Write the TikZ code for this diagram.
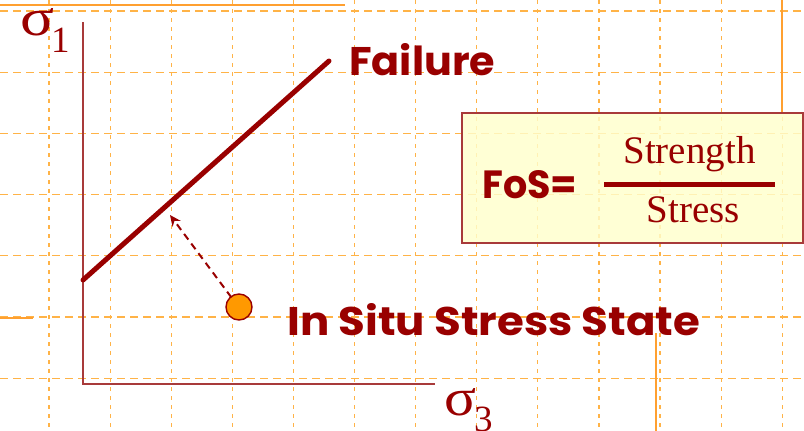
\documentclass[tikz,border=0pt]{standalone}
\usepackage{fontspec}
\setmainfont{Liberation Serif}
\newfontfamily\comic{Poppins}
\usetikzlibrary{arrows.meta}
\definecolor{dred}{HTML}{990000}
\definecolor{axred}{HTML}{A83A3A}
\definecolor{gridor}{HTML}{FFB347}
\definecolor{solidor}{HTML}{FFA030}
\definecolor{boxfill}{HTML}{FFFFCC}
\definecolor{dotor}{HTML}{FF9900}
\tikzset{
  hgrid/.style={gridor, line width=1.2pt, dash pattern=on 8pt off 5pt},
  vgrid/.style={gridor, line width=1.2pt, dash pattern=on 4pt off 5pt},
  solidline/.style={solidor, line width=1.8pt},
  axis/.style={axred, line width=1.6pt},
  failline/.style={dred, line width=5pt, line cap=round},
  comictext/.style={inner sep=0pt, anchor=base west, text=dred},
  serifsym/.style={inner sep=0pt, anchor=base west, text=dred},
  fosbox/.style={draw=axred, line width=1.4pt, fill=boxfill, fill opacity=0.82},
  pointdot/.style={circle, draw=dred, line width=1.4pt, fill=dotor, minimum size=26pt, inner sep=0pt},
  moveline/.style={dred, line width=2pt, dash pattern=on 7pt off 5pt, -{Stealth[length=11pt,width=10pt]}}
}
\begin{document}
\begin{tikzpicture}[x=1pt,y=-1pt]
\useasboundingbox (0,0) rectangle (804,431);
\fill[white] (0,0) rectangle (804,431);
% grid
\foreach \gx in {49,110.1,171.2,232.3,293.4,354.5,415.6,476.7,537.8,598.9,660,721.1,782.2}
  \draw[vgrid] (\gx,0) -- (\gx,431);
\foreach \gy in {11,72.2,133.4,194.6,255.8,317,378.2}
  \draw[hgrid] (0,\gy) -- (804,\gy);
% solid orange lines
\draw[solidline] (0,5) -- (345,5);
\draw[solidline] (0,318) -- (33,318);
\draw[solidline] (782,0) -- (782,113);
\draw[solidline] (656,333) -- (656,431);
% axes
\coordinate (origin) at (83,384);
\coordinate (ytop) at (83,22);
\coordinate (xend) at (435,384);
\draw[axis] (ytop) -- (origin) -- (xend);
\node[serifsym] (s1) at (20,35) {\resizebox{34pt}{27pt}{σ}};
\node[serifsym, font=\fontsize{37}{37}\selectfont] (s1sub) at (51,52) {1};
\node[serifsym] (s3) at (444,415) {\resizebox{32pt}{27pt}{σ}};
\node[serifsym, font=\fontsize{37}{37}\selectfont] (s3sub) at (474,431) {3};
% failure line
\coordinate (fa) at (83,280);
\coordinate (fb) at (329,61);
\draw[failline] (fa) -- (fb);
\node[comictext] (fail) at (349,75) {\resizebox{146pt}{32pt}{\comic\bfseries Failure}};
% in situ point
\node[pointdot] (pt) at (239,307) {};
\coordinate (tip) at (170,215);
\draw[moveline] (pt.north west) ++(2,0) -- (tip);
\node[comictext] (insitu) at (287,335) {\resizebox{413pt}{32pt}{\comic\bfseries In Situ Stress State}};
% FoS box
\draw[fosbox] (462,113) rectangle (803,243);
\node[comictext] (fos) at (482,198) {\resizebox{95pt}{28pt}{\comic\bfseries FoS=}};
\coordinate (barl) at (604,184);
\coordinate (barr) at (775,184);
\draw[dred, line width=5pt] (barl) -- (barr);
\node[inner sep=0pt, anchor=base, text=dred, font=\fontsize{39}{39}\selectfont] (num) at (689.5,163) {Strength};
\node[inner sep=0pt, anchor=base, text=dred, font=\fontsize{39}{39}\selectfont] (den) at (693.5,222) {Stress};
\end{tikzpicture}
\end{document}
